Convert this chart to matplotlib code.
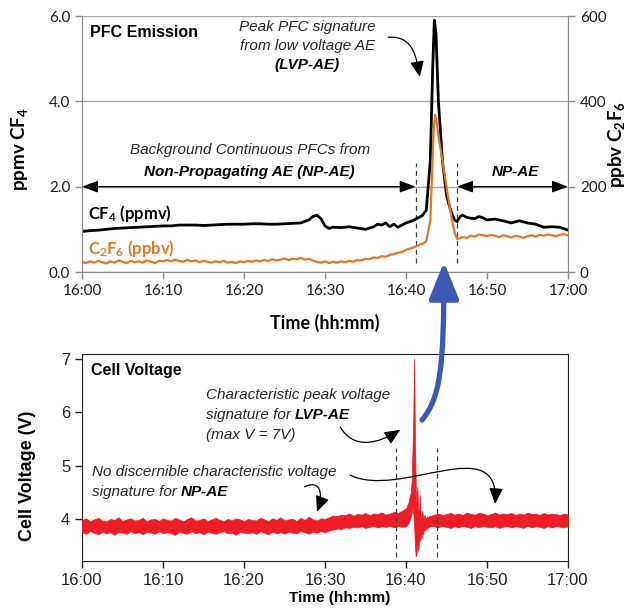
import matplotlib
matplotlib.use("Agg")
import matplotlib.pyplot as plt
from matplotlib.patches import FancyArrowPatch
from matplotlib.path import Path

plt.rcParams['mathtext.default'] = 'regular'

# ---------------- data (minutes after 16:00) ----------------
tick_minutes = [0, 10, 20, 30, 40, 50, 60]
tick_labels = ["16:00", "16:10", "16:20", "16:30", "16:40", "16:50", "17:00"]

cf4_t = [0, 1, 2, 3, 4, 5, 6, 7, 8, 9, 10, 11, 12, 13, 14, 15, 16, 17, 18, 19,
         20, 21, 22, 23, 24, 25, 26, 27, 28, 28.5, 29, 29.5, 30, 30.5, 31, 32,
         33, 34, 35, 36, 36.5, 37, 37.5, 38, 38.5, 39, 39.5, 40, 40.5, 41, 41.5,
         42, 42.5, 43, 43.3, 43.5, 43.7, 44.0, 44.5, 45, 45.5, 46, 46.3, 46.7,
         47, 47.5, 48, 48.5, 49, 49.5, 50, 51, 52, 53, 54, 55, 56, 57, 58, 59, 60]
cf4_ppmv = [0.95, 0.97, 0.98, 1.0, 1.02, 1.03, 1.04, 1.05, 1.06, 1.07, 1.08,
            1.08, 1.1, 1.1, 1.1, 1.09, 1.1, 1.11, 1.12, 1.12, 1.12, 1.13, 1.13,
            1.12, 1.12, 1.13, 1.14, 1.15, 1.22, 1.3, 1.33, 1.25, 1.08, 1.02,
            1.05, 1.04, 1.06, 1.03, 1.0, 1.06, 1.12, 1.1, 1.15, 1.06, 1.12, 1.05,
            1.1, 1.15, 1.18, 1.22, 1.27, 1.32, 1.45, 2.6, 4.8, 5.9, 5.6, 4.0,
            2.6, 1.8, 1.45, 1.22, 1.18, 1.3, 1.33, 1.28, 1.26, 1.25, 1.3, 1.27,
            1.22, 1.24, 1.2, 1.15, 1.2, 1.15, 1.12, 1.05, 1.06, 1.05, 0.98]

c2f6_t = [0, 0.5, 1, 1.5, 2, 2.5, 3, 3.5, 4, 4.5, 5, 5.5, 6, 6.5, 7, 7.5, 8, 8.5,
          9, 9.5, 10, 10.5, 11, 11.5, 12, 12.5, 13, 13.5, 14, 14.5, 15, 15.5, 16,
          16.5, 17, 17.5, 18, 18.5, 19, 19.5, 20, 20.5, 21, 21.5, 22, 22.5, 23,
          23.5, 24, 24.5, 25, 25.5, 26, 26.5, 27, 27.5, 28, 28.5, 29, 29.5, 30,
          30.5, 31, 31.5, 32, 32.5, 33, 33.5, 34, 34.5, 35, 35.5, 36, 36.5, 37,
          37.5, 38, 38.5, 39, 39.5, 40, 40.5, 41, 41.5, 42, 42.5,
          43.0, 43.2, 43.4, 43.6, 43.8, 44.0, 44.5, 45.0, 45.5, 46.0, 46.3,
          46.5, 47, 47.5, 48, 48.5, 49, 49.5, 50, 50.5, 51, 51.5, 52, 52.5, 53,
          53.5, 54, 54.5, 55, 55.5, 56, 56.5, 57, 57.5, 58, 58.5, 59, 59.5, 60]
c2f6_ppbv = [24, 21, 25, 22, 26, 23, 20, 25, 22, 27, 24, 21, 26, 23, 25, 22, 27,
             24, 21, 26, 25,
             28, 25, 29, 26, 24, 28, 25, 27, 23, 26, 24, 22, 25, 23, 26, 22, 24,
             21, 25, 23,
             26, 24, 27, 25, 28, 26, 30, 27, 29, 32, 28, 31, 30, 33, 29, 31, 27,
             24, 22, 25,
             21, 24, 22, 25, 23, 26, 24, 28, 27, 31, 30, 34, 33, 37, 36, 40, 42,
             45, 47, 52,
             55, 58, 62, 66, 72,
             120, 220, 330, 368, 350, 320, 260, 200, 140, 92, 78,
             78, 82, 80, 85, 83, 88, 86, 84, 87, 85, 82, 86, 84, 81, 85, 83, 80,
             84, 86, 83, 87, 85, 88, 86, 84, 87, 89, 86]

volt_t = [0, 0.5, 1, 1.5, 2, 2.5, 3, 3.5, 4, 4.5, 5, 5.5, 6, 6.5, 7, 7.5, 8, 8.5,
          9, 9.5, 10, 10.5, 11, 11.5, 12, 12.5, 13, 13.5, 14, 14.5, 15, 15.5, 16,
          16.5, 17, 17.5, 18, 18.5, 19, 19.5, 20, 20.5, 21, 21.5, 22, 22.5, 23,
          23.5, 24, 24.5, 25, 25.5, 26, 26.5, 27, 27.5, 28, 28.5, 29, 29.5, 30,
          30.5, 31, 31.5, 32, 32.5, 33, 33.5, 34, 34.5, 35, 35.5, 36, 36.5, 37,
          37.5, 38, 38.5, 39, 39.5, 40,
          40.1, 40.2, 40.3, 40.4, 40.5, 40.6, 40.7, 40.8, 40.9, 41.0, 41.1, 41.2,
          41.3, 41.4, 41.5, 41.6, 41.7, 41.8, 41.9, 42.0, 42.1, 42.2, 42.3, 42.4,
          42.5, 42.6, 42.7, 42.8, 42.9, 43.0,
          43.5, 44, 44.5, 45, 45.5, 46, 46.5, 47, 47.5, 48, 48.5, 49, 49.5, 50,
          50.5, 51, 51.5, 52, 52.5, 53, 53.5, 54, 54.5, 55, 55.5, 56, 56.5, 57,
          57.5, 58, 58.5, 59, 59.5, 60]
volt_hi = [3.98, 4.01, 3.96, 3.99, 4.02, 3.97, 3.95, 4.0, 3.98, 4.03, 3.96, 3.99,
           4.01, 3.97, 3.98, 4.02, 3.95, 3.99, 4.0, 3.96, 4.01,
           3.98, 3.97, 4.02, 3.99, 3.95, 4.0, 4.03, 3.97, 3.98, 4.01, 3.96, 3.99,
           4.02, 3.98, 3.96, 4.0, 3.97, 4.01, 3.99, 3.96,
           4.0, 3.98, 3.97, 4.02, 3.99, 3.96, 4.01, 3.98, 4.03, 3.97, 3.99, 4.0,
           3.96, 4.02, 3.98, 4.04, 3.99, 3.97, 4.01, 4.0,
           4.03, 4.06, 4.05, 4.08, 4.07, 4.1, 4.06, 4.09, 4.08, 4.11, 4.07, 4.1,
           4.09, 4.12, 4.08, 4.1, 4.13, 4.11, 4.15, 4.2,
           4.22, 4.28, 4.3, 4.38, 4.45, 4.5, 4.7, 5.3, 5.9, 7.0, 5.6, 4.6, 4.3,
           4.6, 4.2, 4.1, 4.45, 4.1, 4.0, 4.15, 4.05, 4.0, 4.08, 4.02, 4.0, 4.05,
           4.02, 4.04, 4.06, 4.05,
           4.08, 4.1, 4.07, 4.09, 4.11, 4.08, 4.1, 4.07, 4.12, 4.09, 4.08, 4.11,
           4.1, 4.07, 4.09, 4.12, 4.08, 4.1, 4.09, 4.11, 4.07, 4.1, 4.08, 4.12,
           4.09, 4.1, 4.07, 4.11, 4.08, 4.1, 4.09, 4.07, 4.1, 4.08]
volt_lo = [3.75, 3.72, 3.77, 3.74, 3.71, 3.76, 3.73, 3.75, 3.7, 3.76, 3.74, 3.72,
           3.77, 3.73, 3.75, 3.71, 3.76, 3.74, 3.72, 3.77, 3.73,
           3.75, 3.73, 3.7, 3.76, 3.74, 3.72, 3.77, 3.73, 3.75, 3.71, 3.76, 3.74,
           3.72, 3.75, 3.77, 3.73, 3.74, 3.7, 3.76, 3.74,
           3.73, 3.75, 3.72, 3.77, 3.74, 3.71, 3.76, 3.73, 3.75, 3.72, 3.76, 3.74,
           3.73, 3.77, 3.75, 3.72, 3.76, 3.74, 3.77, 3.75,
           3.78, 3.8, 3.82, 3.81, 3.84, 3.83, 3.85, 3.84, 3.86, 3.83, 3.85, 3.87,
           3.84, 3.86, 3.85, 3.87, 3.84, 3.86, 3.85, 3.86,
           3.88, 3.9, 3.92, 3.95, 4.0, 4.05, 4.1, 4.2, 4.1, 3.9, 3.5, 3.3, 3.35,
           3.5, 3.4, 3.55, 3.6, 3.7, 3.62, 3.75, 3.7, 3.8, 3.78, 3.82, 3.8, 3.84,
           3.83, 3.86, 3.85, 3.87,
           3.86, 3.84, 3.87, 3.85, 3.83, 3.86, 3.84, 3.87, 3.85, 3.83, 3.86, 3.84,
           3.87, 3.85, 3.84, 3.86, 3.83, 3.85, 3.87, 3.84, 3.86, 3.85, 3.83, 3.87,
           3.84, 3.86, 3.85, 3.83, 3.86, 3.84, 3.87, 3.85, 3.84, 3.86]

# event boundaries (minutes)
pfc_bounds = [41.2, 46.3]
volt_bounds = [38.8, 43.8]

# ---------------- styles ----------------
CAL = ['Lato', 'DejaVu Sans']
ARI = ['Liberation Sans', 'DejaVu Sans']
GRAY = '#8c8c8c'
ORANGE = '#e87722'
RED = '#ee1c25'
BLUE = '#3d5ab3'
TXT = '#262626'
FS_NOTE = 11

fig = plt.figure(figsize=(6.34, 6.12), dpi=100)
W, H = 634.0, 612.0

def fpos(l, t, r, b):
    return [l / W, 1 - b / H, (r - l) / W, (b - t) / H]

# ---------------- top: PFC emission ----------------
ax = fig.add_axes(fpos(82, 16, 568, 272))
ax2 = ax.twinx()
ax.set_xlim(0, 60)
ax.set_ylim(0, 6)
ax2.set_ylim(0, 600)
ax.plot(cf4_t, cf4_ppmv, color='black', lw=2.0, zorder=3)
ax2.plot(c2f6_t, c2f6_ppbv, color=ORANGE, lw=1.6, zorder=3)

ax.set_xticks(tick_minutes)
ax.set_xticklabels(tick_labels, fontfamily=CAL, fontsize=11)
ax.set_yticks([0, 2, 4, 6])
ax.set_yticklabels(["0.0", "2.0", "4.0", "6.0"], fontfamily=CAL, fontsize=11)
ax2.set_yticks([0, 200, 400, 600])
ax2.set_yticklabels(["0", "200", "400", "600"], fontfamily=CAL, fontsize=11)
ax.grid(axis='y', color='#a6a6a6', lw=1.0)
ax.set_axisbelow(True)
for a in (ax, ax2):
    for s in a.spines.values():
        s.set_color(GRAY)
    a.spines['top'].set_visible(False)
    a.tick_params(colors=GRAY, labelcolor='#1a1a1a', length=5, width=1)
ax.set_xlabel("Time (hh:mm)", fontfamily=CAL, fontweight='bold', fontsize=13)
ax.xaxis.set_label_coords(0.5, -0.2)
ax.xaxis.label.set_verticalalignment('center')
ax.set_ylabel("ppmv CF$_4$", fontfamily=CAL, fontweight='bold', fontsize=13.5)
ax.yaxis.set_label_coords(-0.128, 0.48)
ax.yaxis.label.set_verticalalignment('center')
ax2.set_ylabel("ppbv C$_2$F$_6$", fontfamily=CAL, fontweight='bold', fontsize=13.5)
ax2.yaxis.set_label_coords(1.1, 0.5)
ax2.yaxis.label.set_verticalalignment('center')

for xb in pfc_bounds:
    ax.plot([xb, xb], [0.21, 2.55], color='#404040', lw=0.9, ls=(0, (4, 3)), zorder=2)

ax.text(1.0, 5.62, "PFC Emission", fontfamily=ARI, fontweight='bold',
        fontsize=11.5, va='center', ha='left')
ax.text(27.8, 5.75, "Peak PFC signature", fontfamily=ARI, style='italic',
        fontsize=FS_NOTE, ha='center', va='center', color=TXT)
ax.text(27.8, 5.30, "from low voltage AE", fontfamily=ARI, style='italic',
        fontsize=FS_NOTE, ha='center', va='center', color=TXT)
ax.text(27.8, 4.85, "(LVP-AE)", fontfamily=ARI, style='italic', fontweight='bold',
        fontsize=FS_NOTE, ha='center', va='center', color='black')
ax.text(20.7, 2.86, "Background Continuous PFCs from", fontfamily=ARI,
        style='italic', fontsize=FS_NOTE, ha='center', va='center', color=TXT)
ax.text(20.7, 2.34, "Non-Propagating AE (NP-AE)", fontfamily=ARI, style='italic',
        fontweight='bold', fontsize=FS_NOTE, ha='center', va='center')
ax.text(53.5, 2.34, "NP-AE", fontfamily=ARI, style='italic', fontweight='bold',
        fontsize=FS_NOTE, ha='center', va='center')
ax.text(0.75, 1.38, "CF$_4$ (ppmv)", fontfamily=CAL, fontweight='bold',
        fontsize=12, ha='left', va='center', color='black')
ax.text(0.75, 0.56, "C$_2$F$_6$ (ppbv)", fontfamily=CAL, fontweight='bold',
        fontsize=12, ha='left', va='center', color=ORANGE)

arrow_kw = dict(arrowstyle='<|-|>,head_length=0.8,head_width=0.3', color='black',
                lw=1.0, shrinkA=0, shrinkB=0, mutation_scale=12)
ax.annotate('', xy=(0, 2), xytext=(pfc_bounds[0], 2), arrowprops=arrow_kw, zorder=4)
ax.annotate('', xy=(pfc_bounds[1], 2), xytext=(60, 2), arrowprops=arrow_kw, zorder=4)

def curve(a, pts, **kw):
    p = Path(pts, [Path.MOVETO, Path.CURVE4, Path.CURVE4, Path.CURVE4])
    arr = FancyArrowPatch(path=p, arrowstyle='-|>,head_length=0.8,head_width=0.35',
                          mutation_scale=12, color=kw.get('color', 'black'),
                          lw=kw.get('lw', 0.9), transform=a.transData, zorder=5)
    a.add_patch(arr)

curve(ax, [(37.8, 5.50), (41.0, 5.55), (41.3, 5.0), (41.7, 4.57)])

# ---------------- bottom: Cell voltage ----------------
bx = fig.add_axes(fpos(82, 354, 568, 561))
bx.set_xlim(0, 60)
bx.set_ylim(3.21, 7.09)
bx.fill_between(volt_t, volt_lo, volt_hi, color=RED, lw=0.5, edgecolor=RED, zorder=3)
bx.set_xticks(tick_minutes)
bx.set_xticklabels(tick_labels, fontfamily=ARI, fontsize=12)
bx.set_yticks([4, 5, 6, 7])
bx.set_yticklabels(["4", "5", "6", "7"], fontfamily=ARI, fontsize=12)
for s in bx.spines.values():
    s.set_color('#222222')
bx.tick_params(colors='#222222', labelcolor='#222222', length=5, width=1)
bx.set_xlabel("Time (hh:mm)", fontfamily=ARI, fontweight='bold', fontsize=11)
bx.xaxis.set_label_coords(0.53, -0.18)
bx.xaxis.label.set_verticalalignment('center')
bx.set_ylabel("Cell Voltage (V)", fontfamily=ARI, fontweight='bold', fontsize=13)
bx.yaxis.set_label_coords(-0.112, 0.41)
bx.yaxis.label.set_verticalalignment('center')

for xb in volt_bounds:
    bx.plot([xb, xb], [3.29, 5.33], color='#404040', lw=0.9, ls=(0, (4, 3)), zorder=4)

bx.text(1.1, 6.78, "Cell Voltage", fontfamily=ARI, fontweight='bold',
        fontsize=11.5, va='center', ha='left')
t_kw = dict(fontfamily=ARI, style='italic', fontsize=FS_NOTE, color=TXT)
bx.text(15.3, 6.33, "Characteristic peak voltage", va='center', ha='left', **t_kw)
t1 = bx.text(15.3, 5.95, "signature for ", va='center', ha='left', **t_kw)
bx.annotate("LVP-AE", xy=(1, 0), xycoords=t1, va='bottom', ha='left',
            fontfamily=ARI, style='italic', fontweight='bold', fontsize=FS_NOTE)
bx.text(15.3, 5.58, "(max V = 7V)", va='center', ha='left', **t_kw)
bx.text(1.2, 4.88, "No discernible characteristic voltage", va='center', ha='left', **t_kw)
t2 = bx.text(1.2, 4.51, "signature for ", va='center', ha='left', **t_kw)
bx.annotate("NP-AE", xy=(1, 0), xycoords=t2, va='bottom', ha='left',
            fontfamily=ARI, style='italic', fontweight='bold', fontsize=FS_NOTE)

curve(bx, [(31.9, 5.72), (33.5, 5.30), (36.5, 5.40), (39.3, 5.67)])
curve(bx, [(27.5, 4.60), (29.5, 4.75), (29.8, 4.45), (29.0, 4.13)])
curve(bx, [(33.1, 4.82), (39.3, 4.36), (51.6, 5.67), (51.0, 4.28)])

# ---------------- big blue linking arrow ----------------
def fp(x, y):
    return (x / W, 1 - y / H)

bp = Path([fp(422, 420), fp(440, 398), fp(444, 370), fp(444, 262)],
          [Path.MOVETO, Path.CURVE4, Path.CURVE4, Path.CURVE4])
blue = FancyArrowPatch(path=bp, arrowstyle='-|>,head_length=1.6,head_width=0.65',
                       mutation_scale=14, color=BLUE, lw=3.8,
                       transform=fig.transFigure, zorder=10, capstyle='round')
fig.add_artist(blue)

fig.savefig("out.png", dpi=100)
